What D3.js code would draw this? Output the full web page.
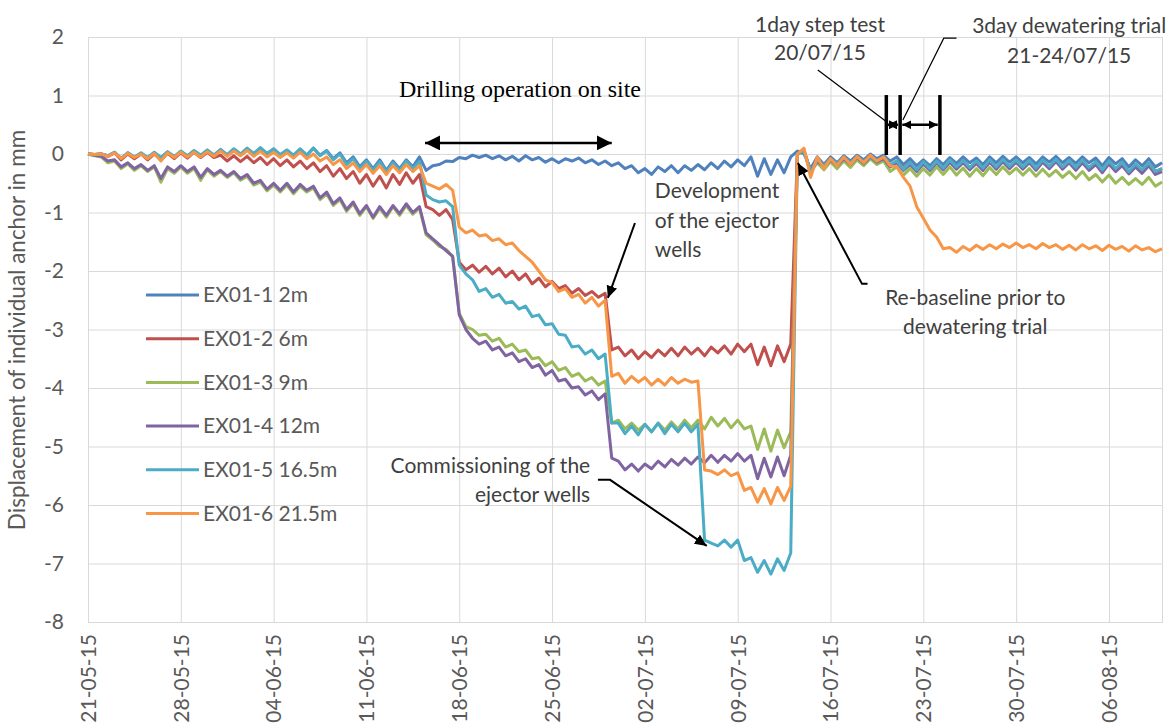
<!DOCTYPE html>
<html><head><meta charset="utf-8">
<script src="https://cdn.jsdelivr.net/npm/d3@7"></script>
<style>body{margin:0;background:#fff}svg{display:block}</style>
</head><body>
<svg id="c" width="1175" height="728"></svg>
<script>
// ---------------- DATA ----------------
const seriesNames = ["EX01-1 2m","EX01-2 6m","EX01-3 9m","EX01-4 12m","EX01-5 16.5m","EX01-6 21.5m"];
const seriesColors = ["#4F81BD","#C0504D","#9BBB59","#8064A2","#4BACC6","#F79646"];
const xTickLabels = ["21-05-15","28-05-15","04-06-15","11-06-15","18-06-15","25-06-15","02-07-15","09-07-15","16-07-15","23-07-15","30-07-15","06-08-15"];
const yTickValues = [2,1,0,-1,-2,-3,-4,-5,-6,-7,-8];
const startLabel = "21-05-15", endLabel = "10-08-15";
const sampleHours = 12; // readings every 12 hours from 21-05-15

const ex01_1 = [0,-0.01,0,-0.03,0.03,-0.08,0.02,-0.06,0.01,-0.08,
0.02,-0.07,0.03,-0.05,0.04,-0.04,0.05,-0.03,0.06,-0.02,
0.07,-0.02,0.08,-0.01,0.09,0,0.1,0,0.08,-0.02,
0.06,-0.03,0.08,-0.02,0.1,-0.02,0.06,-0.08,0.02,-0.15,
-0.05,-0.22,-0.1,-0.25,-0.1,-0.28,-0.12,-0.25,-0.1,-0.22,
-0.05,-0.28,-0.2,-0.18,-0.12,-0.13,-0.06,-0.08,-0.02,-0.06,
-0.02,-0.08,-0.03,-0.1,-0.04,-0.12,-0.03,-0.1,-0.06,-0.14,
-0.08,-0.15,-0.08,-0.12,-0.07,-0.15,-0.1,-0.18,-0.12,-0.2,
-0.15,-0.25,-0.2,-0.32,-0.25,-0.35,-0.22,-0.3,-0.2,-0.32,
-0.2,-0.28,-0.18,-0.27,-0.15,-0.25,-0.12,-0.22,-0.1,-0.2,
-0.05,-0.38,-0.08,-0.35,-0.1,-0.32,-0.05,0.05,0,-0.25,
-0.05,-0.18,-0.05,-0.15,-0.03,-0.12,-0.02,-0.1,0,-0.08,
-0.02,-0.12,-0.05,-0.18,-0.08,-0.2,-0.1,-0.2,-0.08,-0.18,
-0.06,-0.16,-0.05,-0.15,-0.07,-0.18,-0.05,-0.15,-0.04,-0.14,
-0.05,-0.15,-0.06,-0.17,-0.05,-0.14,-0.04,-0.15,-0.06,-0.16,
-0.05,-0.15,-0.07,-0.2,-0.06,-0.17,-0.08,-0.22,-0.1,-0.2,
-0.08,-0.22,-0.15];

const ex01_2 = [0,-0.01,0,-0.04,0.02,-0.1,0,-0.08,0,-0.1,
0,-0.1,0.01,-0.08,0.02,-0.07,0.03,-0.06,0.03,-0.06,
-0.02,-0.12,-0.03,-0.13,-0.04,-0.15,-0.06,-0.18,-0.08,-0.2,
-0.1,-0.22,-0.12,-0.25,-0.15,-0.3,-0.2,-0.38,-0.25,-0.42,
-0.3,-0.5,-0.35,-0.55,-0.38,-0.58,-0.35,-0.52,-0.32,-0.5,
-0.35,-0.9,-0.95,-1.05,-0.95,-1.12,-1.85,-1.98,-1.9,-2.02,
-1.92,-2.05,-1.95,-2.1,-2.0,-2.15,-2.05,-2.22,-2.12,-2.27,
-2.18,-2.3,-2.25,-2.38,-2.3,-2.42,-2.35,-2.45,-2.38,-3.35,
-3.3,-3.45,-3.35,-3.5,-3.38,-3.48,-3.35,-3.45,-3.32,-3.45,
-3.3,-3.42,-3.32,-3.45,-3.3,-3.4,-3.28,-3.42,-3.25,-3.38,
-3.25,-3.6,-3.3,-3.62,-3.28,-3.55,-3.25,0,0.05,-0.3,
-0.1,-0.2,-0.08,-0.18,-0.06,-0.15,-0.05,-0.14,-0.04,-0.12,
-0.05,-0.2,-0.12,-0.25,-0.15,-0.28,-0.15,-0.26,-0.13,-0.25,
-0.12,-0.24,-0.13,-0.25,-0.14,-0.26,-0.12,-0.24,-0.11,-0.23,
-0.12,-0.24,-0.13,-0.26,-0.12,-0.23,-0.11,-0.24,-0.13,-0.25,
-0.12,-0.25,-0.15,-0.28,-0.14,-0.26,-0.16,-0.3,-0.18,-0.28,
-0.16,-0.3,-0.25];

const ex01_3 = [0,-0.03,-0.05,-0.15,-0.12,-0.25,-0.17,-0.28,-0.2,-0.3,
-0.22,-0.48,-0.25,-0.33,-0.22,-0.33,-0.25,-0.45,-0.27,-0.38,
-0.3,-0.4,-0.32,-0.45,-0.38,-0.53,-0.48,-0.63,-0.53,-0.65,
-0.53,-0.68,-0.55,-0.65,-0.58,-0.78,-0.68,-0.88,-0.78,-0.98,
-0.85,-1.05,-0.9,-1.1,-0.93,-1.08,-0.9,-1.05,-0.88,-1.03,
-0.92,-1.38,-1.47,-1.58,-1.63,-1.75,-2.72,-2.95,-3.0,-3.1,
-3.08,-3.2,-3.15,-3.3,-3.25,-3.38,-3.35,-3.5,-3.48,-3.62,
-3.55,-3.7,-3.65,-3.8,-3.75,-3.88,-3.82,-3.95,-3.88,-4.6,
-4.55,-4.7,-4.6,-4.72,-4.62,-4.75,-4.6,-4.72,-4.58,-4.7,
-4.55,-4.68,-4.55,-4.7,-4.5,-4.65,-4.52,-4.68,-4.55,-4.7,
-4.65,-5.05,-4.7,-5.08,-4.72,-5.02,-4.75,0,0.05,-0.3,
-0.15,-0.27,-0.13,-0.25,-0.12,-0.23,-0.1,-0.2,-0.08,-0.18,
-0.12,-0.3,-0.22,-0.36,-0.25,-0.38,-0.25,-0.36,-0.22,-0.35,
-0.22,-0.36,-0.24,-0.38,-0.25,-0.37,-0.23,-0.35,-0.22,-0.34,
-0.24,-0.36,-0.25,-0.38,-0.26,-0.38,-0.28,-0.4,-0.3,-0.42,
-0.3,-0.44,-0.35,-0.48,-0.36,-0.5,-0.4,-0.52,-0.42,-0.52,
-0.4,-0.55,-0.48];

const ex01_4 = [0,-0.02,-0.04,-0.12,-0.1,-0.22,-0.15,-0.25,-0.18,-0.28,
-0.2,-0.42,-0.22,-0.3,-0.2,-0.3,-0.22,-0.4,-0.25,-0.35,
-0.28,-0.38,-0.3,-0.42,-0.35,-0.5,-0.45,-0.6,-0.5,-0.62,
-0.5,-0.65,-0.52,-0.62,-0.55,-0.75,-0.65,-0.85,-0.75,-0.95,
-0.82,-1.02,-0.88,-1.08,-0.9,-1.05,-0.88,-1.02,-0.85,-1.0,
-0.9,-1.35,-1.45,-1.55,-1.65,-1.75,-2.75,-3.0,-3.15,-3.25,
-3.2,-3.35,-3.3,-3.45,-3.4,-3.55,-3.5,-3.65,-3.6,-3.78,
-3.7,-3.88,-3.85,-4.0,-3.98,-4.12,-4.05,-4.2,-4.1,-5.2,
-5.25,-5.4,-5.3,-5.42,-5.3,-5.38,-5.25,-5.35,-5.22,-5.32,
-5.2,-5.3,-5.18,-5.28,-5.15,-5.27,-5.15,-5.25,-5.12,-5.25,
-5.15,-5.55,-5.2,-5.52,-5.18,-5.5,-5.15,0,0.05,-0.3,
-0.12,-0.22,-0.1,-0.2,-0.08,-0.18,-0.06,-0.16,-0.05,-0.14,
-0.08,-0.22,-0.15,-0.28,-0.18,-0.3,-0.17,-0.28,-0.15,-0.27,
-0.14,-0.26,-0.15,-0.27,-0.16,-0.28,-0.14,-0.26,-0.13,-0.25,
-0.14,-0.26,-0.15,-0.28,-0.14,-0.25,-0.13,-0.26,-0.15,-0.28,
-0.15,-0.28,-0.18,-0.32,-0.17,-0.3,-0.2,-0.34,-0.22,-0.33,
-0.2,-0.35,-0.3];

const ex01_5 = [0,-0.01,0,-0.03,0.03,-0.07,0.02,-0.05,0.02,-0.06,
0.03,-0.06,0.04,-0.04,0.05,-0.03,0.06,-0.02,0.07,-0.02,
0.08,-0.01,0.09,0,0.1,0.01,0.11,0.01,0.09,-0.01,
0.07,-0.02,0.09,-0.02,0.1,-0.03,0.05,-0.1,0,-0.18,
-0.08,-0.25,-0.12,-0.28,-0.13,-0.3,-0.15,-0.28,-0.12,-0.25,
-0.12,-0.7,-0.78,-0.82,-0.8,-0.9,-1.9,-2.05,-2.15,-2.35,
-2.3,-2.45,-2.4,-2.55,-2.52,-2.65,-2.6,-2.78,-2.75,-2.92,
-2.9,-3.08,-3.1,-3.3,-3.28,-3.42,-3.35,-3.5,-3.42,-4.6,
-4.6,-4.78,-4.65,-4.8,-4.62,-4.75,-4.6,-4.78,-4.62,-4.75,
-4.6,-4.75,-4.62,-6.6,-6.65,-6.7,-6.6,-6.72,-6.6,-6.95,
-6.9,-7.15,-6.95,-7.18,-6.92,-7.12,-6.82,0,0.05,-0.3,
-0.1,-0.2,-0.08,-0.17,-0.06,-0.15,-0.05,-0.13,-0.04,-0.12,
-0.05,-0.18,-0.12,-0.26,-0.14,-0.27,-0.13,-0.25,-0.12,-0.24,
-0.1,-0.22,-0.11,-0.23,-0.12,-0.24,-0.1,-0.22,-0.09,-0.21,
-0.1,-0.22,-0.11,-0.24,-0.1,-0.21,-0.09,-0.22,-0.11,-0.23,
-0.1,-0.23,-0.13,-0.27,-0.12,-0.25,-0.14,-0.3,-0.17,-0.27,
-0.15,-0.3,-0.25];

const ex01_6 = [0,-0.01,0,-0.04,0.02,-0.08,0.01,-0.06,0,-0.08,
0.01,-0.12,0.02,-0.06,0.03,-0.05,0.03,-0.05,0.04,-0.04,
0.05,-0.04,0.05,-0.03,0.06,-0.04,0.05,-0.05,0.03,-0.06,
0.02,-0.07,0.03,-0.08,0,-0.12,-0.05,-0.18,-0.1,-0.25,
-0.15,-0.3,-0.18,-0.33,-0.2,-0.35,-0.2,-0.32,-0.18,-0.3,
-0.2,-0.5,-0.55,-0.6,-0.52,-0.62,-1.25,-1.35,-1.3,-1.4,
-1.38,-1.48,-1.45,-1.55,-1.52,-1.65,-1.75,-1.85,-2.0,-2.15,
-2.2,-2.35,-2.3,-2.45,-2.4,-2.55,-2.45,-2.6,-2.5,-3.8,
-3.75,-3.92,-3.8,-3.9,-3.82,-3.95,-3.85,-3.95,-3.82,-3.92,
-3.85,-3.9,-3.88,-5.4,-5.42,-5.48,-5.4,-5.5,-5.45,-5.75,
-5.7,-5.95,-5.72,-5.98,-5.7,-5.92,-5.68,0,0.1,-0.4,
-0.05,-0.25,-0.08,-0.2,-0.05,-0.18,-0.04,-0.15,-0.02,-0.12,
-0.05,-0.2,-0.22,-0.4,-0.55,-0.9,-1.1,-1.3,-1.42,-1.62,
-1.6,-1.68,-1.58,-1.65,-1.56,-1.63,-1.55,-1.62,-1.54,-1.6,
-1.52,-1.6,-1.55,-1.62,-1.53,-1.6,-1.55,-1.63,-1.56,-1.64,
-1.55,-1.62,-1.57,-1.65,-1.56,-1.63,-1.58,-1.66,-1.57,-1.64,
-1.6,-1.67,-1.62];

const seriesValues = [ex01_1, ex01_2, ex01_3, ex01_4, ex01_5, ex01_6];

// ---------------- CHART ----------------
const parse = d3.timeParse("%d-%m-%y");
const start = parse(startLabel);
const svg = d3.select("#c");
const L = 88, R = 1162, T = 37, B = 622;
const x = d3.scaleTime().domain([start, parse(endLabel)]).range([L, R]);
const y = d3.scaleLinear().domain([-8, 2]).range([B, T]);
const dayX = d => x(d3.timeHour.offset(start, Math.round(d * 24)));
const FONT = "Lato, 'Open Sans', sans-serif";
const GREY = "#595959";

// horizontal grid + y labels
const ya = svg.append("g").attr("transform", `translate(${L},0)`)
  .call(d3.axisLeft(y).tickValues(yTickValues).tickSize(-(R - L)).tickPadding(24).tickFormat(d => String(d)));
ya.select(".domain").remove();
ya.selectAll("line").attr("stroke", "#d9d9d9").attr("stroke-width", 1);
ya.selectAll("text").attr("fill", GREY).style("font-family", FONT).style("font-size", "21px");

// vertical grid + x labels
const xTicks = xTickLabels.map(parse);
const xa = svg.append("g").attr("transform", `translate(0,${B})`)
  .call(d3.axisBottom(x).tickValues(xTicks).tickSize(-(B - T)).tickFormat(d3.timeFormat("%d-%m-%y")));
xa.select(".domain").attr("stroke", "#d9d9d9");
xa.selectAll("line").attr("stroke", "#d9d9d9").attr("stroke-width", 1);
xa.selectAll("text").attr("fill", GREY).style("font-family", FONT).style("font-size", "21px")
  .attr("text-anchor", "end").attr("transform", "rotate(-90)").attr("x", -12).attr("y", 0).attr("dy", "0.35em");

// y title
svg.append("text").attr("transform", `translate(25,330) rotate(-90)`)
  .attr("text-anchor", "middle").attr("fill", GREY).style("font-family", FONT).style("font-size", "22.5px")
  .text("Displacement of individual anchor in mm");

// lines
const line = d3.line().x((d, i) => x(d3.timeHour.offset(start, i * sampleHours))).y(d => y(d));
seriesValues.forEach((vals, s) => {
  svg.append("path").datum(vals).attr("d", line).attr("fill", "none")
    .attr("stroke", seriesColors[s]).attr("stroke-width", 3).attr("stroke-linejoin", "round");
});

// legend
const lg = svg.append("g");
seriesNames.forEach((n, i) => {
  const yy = 295 + i * 43.7;
  lg.append("line").attr("x1", 146).attr("x2", 199).attr("y1", yy).attr("y2", yy)
    .attr("stroke", seriesColors[i]).attr("stroke-width", 3);
  lg.append("text").attr("x", 203).attr("y", yy).attr("dy", "0.35em").attr("fill", GREY)
    .style("font-family", FONT).style("font-size", "21px").text(n);
});

// markers
const defs = svg.append("defs");
function mk(id, len, w) {
  defs.append("marker").attr("id", id).attr("viewBox", `0 0 ${len} ${w}`).attr("refX", len).attr("refY", w / 2)
    .attr("markerWidth", len).attr("markerHeight", w).attr("markerUnits", "userSpaceOnUse").attr("orient", "auto-start-reverse")
    .append("path").attr("d", `M0,0L${len},${w / 2}L0,${w}Z`).attr("fill", "#000");
}
mk("big", 15, 15); mk("mid", 12, 11); mk("sm", 9, 9);

const ann = svg.append("g");
function poly(pts, w, endM, startM) {
  const p = ann.append("path").attr("d", d3.line()(pts.map(([d, v]) => [dayX(d), y(v)])))
    .attr("fill", "none").attr("stroke", "#000").attr("stroke-width", w);
  if (endM) p.attr("marker-end", `url(#${endM})`);
  if (startM) p.attr("marker-start", `url(#${startM})`);
}
function txt(d, v, s, anchor, fam, size, col) {
  ann.append("text").attr("x", dayX(d)).attr("y", y(v)).attr("text-anchor", anchor)
    .attr("fill", col || "#404040").style("font-family", fam || FONT).style("font-size", (size || 21) + "px").text(s);
}

// Drilling
txt(32.6, 0.97, "Drilling operation on site", "middle", "'Liberation Serif', 'Times New Roman', serif", 24, "#000");
poly([[25.4, 0.19], [39.5, 0.19]], 2.5, "big", "big");

// Development
txt(42.76, -0.75, "Development", "start");
txt(42.76, -1.265, "of the ejector", "start");
txt(42.76, -1.76, "wells", "start");
poly([[41.25, -1.18], [39.2, -2.46]], 2, "mid");

// Re-baseline
txt(66.9, -2.58, "Re-baseline prior to", "middle");
txt(66.9, -3.08, "dewatering trial", "middle");
poly([[58.8, -2.22], [58.37, -2.22], [53.54, -0.154]], 2, "mid");

// Commissioning
txt(37.86, -5.45, "Commissioning of the", "end");
txt(37.86, -5.95, "ejector wells", "end");
poly([[38.46, -5.57], [39.37, -5.57], [46.68, -6.7]], 2, "mid");

// Step test / dewatering trial
txt(55.2, 2.085, "1day step test", "middle");
txt(55.2, 1.607, "20/07/15", "middle");
txt(73.98, 2.07, "3day dewatering trial", "middle");
txt(73.98, 1.56, "21-24/07/15", "middle");
poly([[55.05, 1.436], [60.26, 0.547]], 1.2);
poly([[65.5, 1.98], [64.55, 1.98], [61.46, 0.58]], 1.2);
[60.2, 61.25, 64.25].forEach(d => poly([[d, 1.008], [d, -0.017]], 3.5));
poly([[60.35, 0.5], [61.1, 0.5]], 2.5, "sm", "sm");
poly([[61.4, 0.5], [64.1, 0.5]], 2.5, "sm", "sm");
</script>
</body></html>
